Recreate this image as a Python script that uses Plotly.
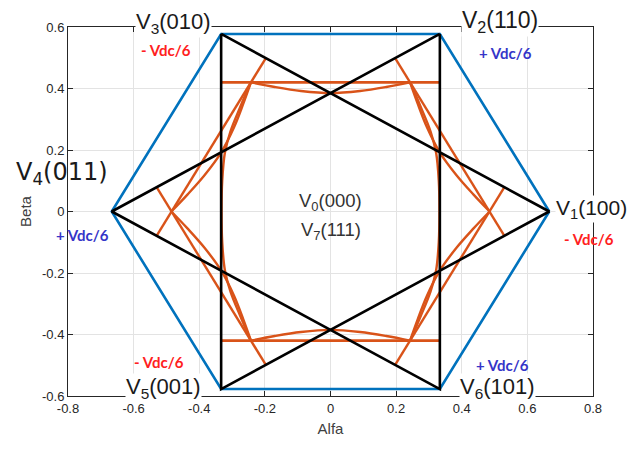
import plotly.graph_objects as go

# ---------------- data ----------------
hex_x = [0.6667, 0.3333, -0.3333, -0.6667, -0.3333, 0.3333, 0.6667]
hex_y = [0.0, 0.5774, 0.5774, 0.0, -0.5774, -0.5774, 0.0]

tri_a_x = [0.3333, -0.6667, 0.3333, 0.3333]
tri_a_y = [0.5774, 0.0, -0.5774, 0.5774]
tri_b_x = [-0.3333, 0.6667, -0.3333, -0.3333]
tri_b_y = [0.5774, 0.0, -0.5774, 0.5774]

# straight orange segments (hexagram-like lines)
seg_top_x = [-0.333, 0.333]
seg_top_y = [0.42, 0.42]
seg_bot_x = [-0.333, 0.333]
seg_bot_y = [-0.42, -0.42]
seg_l1_x = [-0.197, -0.53]
seg_l1_y = [0.499, -0.079]
seg_l2_x = [-0.197, -0.53]
seg_l2_y = [-0.499, 0.079]
seg_r1_x = [0.197, 0.53]
seg_r1_y = [0.499, -0.079]
seg_r2_x = [0.197, 0.53]
seg_r2_y = [-0.499, 0.079]

# inward dipping arcs
arc_top_x = [-0.2425, -0.17, -0.09, 0.0, 0.09, 0.17, 0.2425]
arc_top_y = [0.42, 0.405, 0.392, 0.385, 0.392, 0.405, 0.42]
arc_bot_x = [-0.2425, -0.17, -0.09, 0.0, 0.09, 0.17, 0.2425]
arc_bot_y = [-0.42, -0.405, -0.392, -0.385, -0.392, -0.405, -0.42]
arc_ul_x = [-0.485, -0.436, -0.384, -0.333, -0.294, -0.266, -0.2425]
arc_ul_y = [0.0, 0.055, 0.118, 0.1925, 0.274, 0.35, 0.42]
arc_ll_x = [-0.485, -0.436, -0.384, -0.333, -0.294, -0.266, -0.2425]
arc_ll_y = [0.0, -0.055, -0.118, -0.1925, -0.274, -0.35, -0.42]
arc_ur_x = [0.485, 0.436, 0.384, 0.333, 0.294, 0.266, 0.2425]
arc_ur_y = [0.0, 0.055, 0.118, 0.1925, 0.274, 0.35, 0.42]
arc_lr_x = [0.485, 0.436, 0.384, 0.333, 0.294, 0.266, 0.2425]
arc_lr_y = [0.0, -0.055, -0.118, -0.1925, -0.274, -0.35, -0.42]

# side arcs hugging x = +-1/3
side_l_x = [-0.2425, -0.275, -0.305, -0.322, -0.33, -0.332, -0.33, -0.322, -0.305, -0.275, -0.2425]
side_l_y = [0.42, 0.34, 0.26, 0.19, 0.1, 0.0, -0.1, -0.19, -0.26, -0.34, -0.42]
side_r_x = [0.2425, 0.275, 0.305, 0.322, 0.33, 0.332, 0.33, 0.322, 0.305, 0.275, 0.2425]
side_r_y = [0.42, 0.34, 0.26, 0.19, 0.1, 0.0, -0.1, -0.19, -0.26, -0.34, -0.42]

x_ticks = [-0.8, -0.6, -0.4, -0.2, 0, 0.2, 0.4, 0.6, 0.8]
x_tick_text = ["-0.8", "-0.6", "-0.4", "-0.2", "0", "0.2", "0.4", "0.6", "0.8"]
y_ticks = [-0.6, -0.4, -0.2, 0, 0.2, 0.4, 0.6]
y_tick_text = ["-0.6", "-0.4", "-0.2", "0", "0.2", "0.4", "0.6"]

# ---------------- figure ----------------
BLUE = "#0072BD"
ORANGE = "#D95319"
fig = go.Figure()

orange_lines = [
    (seg_top_x, seg_top_y, 2.8), (seg_bot_x, seg_bot_y, 2.8),
    (seg_l1_x, seg_l1_y, 2.4), (seg_l2_x, seg_l2_y, 2.4),
    (seg_r1_x, seg_r1_y, 2.4), (seg_r2_x, seg_r2_y, 2.4),
]
for xs, ys, w in orange_lines:
    fig.add_trace(go.Scatter(x=xs, y=ys, mode="lines",
                             line=dict(color=ORANGE, width=w), hoverinfo="skip"))
for xs, ys in [(arc_top_x, arc_top_y), (arc_bot_x, arc_bot_y),
               (arc_ul_x, arc_ul_y), (arc_ll_x, arc_ll_y),
               (arc_ur_x, arc_ur_y), (arc_lr_x, arc_lr_y),
               (side_l_x, side_l_y), (side_r_x, side_r_y)]:
    fig.add_trace(go.Scatter(x=xs, y=ys, mode="lines",
                             line=dict(color=ORANGE, width=2.4, shape="spline", smoothing=1.0),
                             hoverinfo="skip"))

fig.add_trace(go.Scatter(x=hex_x, y=hex_y, mode="lines",
                         line=dict(color=BLUE, width=2.6), hoverinfo="skip"))
fig.add_trace(go.Scatter(x=tri_a_x, y=tri_a_y, mode="lines",
                         line=dict(color="black", width=2.6), hoverinfo="skip"))
fig.add_trace(go.Scatter(x=tri_b_x, y=tri_b_y, mode="lines",
                         line=dict(color="black", width=2.6), hoverinfo="skip"))

FAM = "Liberation Sans, Arial, sans-serif"
LBL = dict(family=FAM, color="#1a1a1a")
VDC = dict(family="Lato, Open Sans, sans-serif", size=15)

# labels outside the axes: paper coordinates
paper_annos = [
    dict(x=0.2, y=1.011, text="V<sub>3</sub>(010)", font=dict(size=22, **LBL), bgcolor="white"),
    dict(x=0.823, y=1.014, text="V<sub>2</sub>(110)", font=dict(size=23, **LBL), bgcolor="white"),
    dict(x=-0.011, y=0.602, text="V<sub>4</sub>(011)",
         font=dict(size=24, family="DejaVu Sans, sans-serif", color="#1a1a1a")),
    dict(x=0.998, y=0.507, text="V<sub>1</sub>(100)", font=dict(size=21, **LBL), bgcolor="white"),
]
for a in paper_annos:
    fig.add_annotation(xref="paper", yref="paper", xanchor="center", yanchor="middle",
                       showarrow=False, borderpad=0, **a)

annos = [
    dict(x=-0.509, y=-0.575, text="V<sub>5</sub>(001)", font=dict(size=22, **LBL), bgcolor="white"),
    dict(x=0.509, y=-0.575, text="V<sub>6</sub>(101)", font=dict(size=22, **LBL), bgcolor="white"),
    dict(x=0.0, y=0.032, text="V<sub>0</sub>(000)", font=dict(size=18.5, family=FAM, color="#333333")),
    dict(x=0.0, y=-0.062, text="V<sub>7</sub>(111)", font=dict(size=18.5, family=FAM, color="#333333")),
    dict(x=-0.5, y=0.524, text="<b>- Vdc/6</b>", font=dict(color="#FF2020", **VDC)),
    dict(x=0.533, y=0.517, text="<b>+ Vdc/6</b>", font=dict(color="#3535C8", **VDC)),
    dict(x=-0.756, y=-0.078, text="<b>+ Vdc/6</b>", font=dict(color="#3535C8", **VDC)),
    dict(x=0.787, y=-0.088, text="<b>- Vdc/6</b>", font=dict(color="#FF2020", **VDC)),
    dict(x=-0.524, y=-0.488, text="<b>- Vdc/6</b>", font=dict(color="#FF2020", **VDC)),
    dict(x=0.524, y=-0.5, text="<b>+ Vdc/6</b>", font=dict(color="#3535C8", **VDC)),
]
for a in annos:
    fig.add_annotation(xref="x", yref="y", xanchor="center", yanchor="middle",
                       showarrow=False, borderpad=0, **a)

axis_common = dict(showgrid=True, gridcolor="#e3e3e3", gridwidth=1, zeroline=False,
                   showline=True, linecolor="#262626", linewidth=1, mirror="ticks",
                   ticks="inside", ticklen=5, tickcolor="#262626",
                   tickfont=dict(family=FAM, size=13, color="#262626"))

fig.update_layout(
    width=634, height=457,
    margin=dict(l=68, r=41, t=27, b=61),
    paper_bgcolor="white", plot_bgcolor="white",
    showlegend=False,
    xaxis=dict(range=[-0.8, 0.8], tickvals=x_ticks, ticktext=x_tick_text,
               title=dict(text="Alfa", standoff=8, font=dict(family=FAM, size=15, color="#404040")),
               **axis_common),
    yaxis=dict(range=[-0.6, 0.6], tickvals=y_ticks, ticktext=y_tick_text,
               title=dict(text="Beta", standoff=6, font=dict(family=FAM, size=15, color="#404040")),
               **axis_common),
)

fig.write_html("out.html")
